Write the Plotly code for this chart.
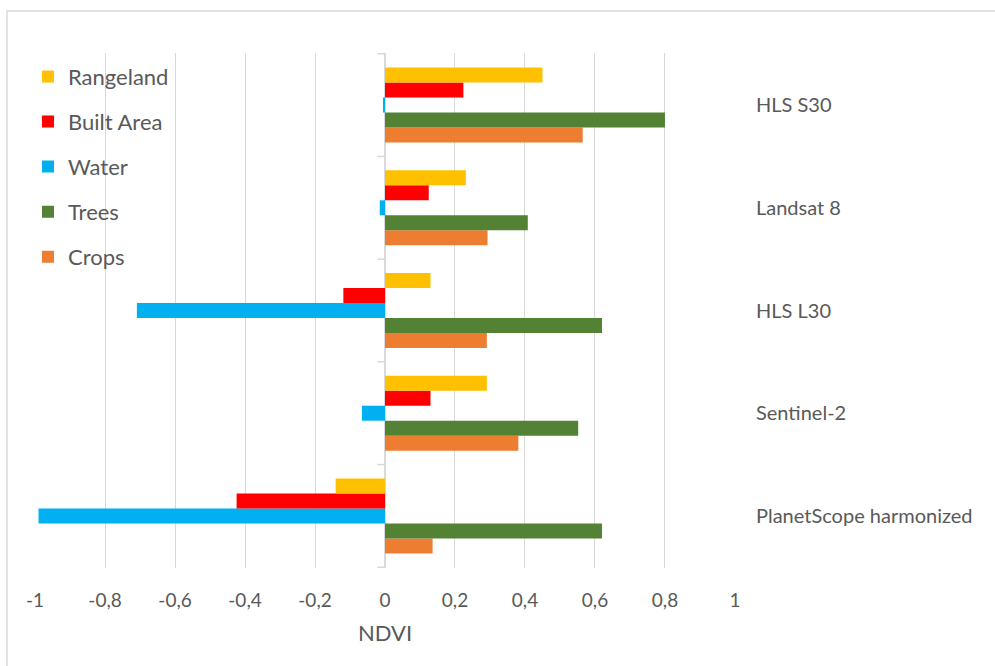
import plotly.graph_objects as go

categories = ["PlanetScope harmonized", "Sentinel-2", "HLS L30", "Landsat 8", "HLS S30"]
crops = [0.136, 0.381, 0.291, 0.293, 0.565]
trees = [0.62, 0.552, 0.62, 0.408, 0.80]
water = [-0.99, -0.066, -0.709, -0.015, -0.005]
built_area = [-0.424, 0.13, -0.119, 0.125, 0.224]
rangeland = [-0.141, 0.291, 0.13, 0.231, 0.45]

series = [
    ("Crops", crops, "#ED7D31"),
    ("Trees", trees, "#548235"),
    ("Water", water, "#00B0F0"),
    ("Built Area", built_area, "#FF0000"),
    ("Rangeland", rangeland, "#FFC000"),
]
x_ticks = [-1, -0.8, -0.6, -0.4, -0.2, 0, 0.2, 0.4, 0.6, 0.8, 1]
x_tick_labels = ["-1", "-0,8", "-0,6", "-0,4", "-0,2", "0", "0,2", "0,4", "0,6", "0,8", "1"]

FONT = "Lato"
TXT = "#595959"
GRID = "#d9d9d9"

fig = go.Figure()
n = len(series)
for i, (name, vals, col) in enumerate(series):
    fig.add_trace(go.Bar(
        y=categories, x=vals, name=name, orientation="h",
        marker=dict(color=col, line=dict(width=0)),
        legendgroup=name, legendrank=n - i,
    ))

# category boundary tick marks on the zero axis
shapes = []
for k in range(len(categories) + 1):
    shapes.append(dict(type="line", xref="x", yref="y", x0=-0.022, x1=0,
                       y0=k - 0.5, y1=k - 0.5, line=dict(color=GRID, width=1.5)))
# outer chart frame (extends beyond the right and bottom edges)
shapes.append(dict(type="rect", xref="paper", yref="paper", x0=-0.04, x1=2,
                   y0=-0.5, y1=1.0816, line=dict(color=GRID, width=1.5), layer="below"))

fig.update_layout(
    width=995, height=666,
    margin=dict(l=35, r=260, t=53, b=98),
    paper_bgcolor="white", plot_bgcolor="white",
    barmode="group", bargap=0.27, bargroupgap=0,
    separators=", ",
    font=dict(family=FONT, color=TXT, size=19),
    showlegend=True,
    legend=dict(
        x=-0.01, y=0.995, xanchor="left", yanchor="top",
        traceorder="grouped", tracegroupgap=13.5,
        bgcolor="rgba(0,0,0,0)", font=dict(size=22, color=TXT),
    ),
    shapes=shapes,
    xaxis=dict(
        range=[-1.0001, 1.0001], tickvals=x_ticks, ticktext=x_tick_labels,
        showgrid=True, gridcolor=GRID, gridwidth=1.4,
        zeroline=True, zerolinecolor=GRID, zerolinewidth=1.5,
        showline=False, ticks="", ticklabelstandoff=19,
        tickfont=dict(size=19, color=TXT),
        title=dict(text="NDVI", font=dict(size=22, color=TXT), standoff=15),
    ),
    yaxis=dict(
        type="category", side="right", showgrid=False, zeroline=False, showline=False,
        ticks="", ticklabelstandoff=20, tickfont=dict(size=20, color=TXT),
    ),
)

fig.write_html(
    "out.html",
    config={"displayModeBar": False},
    post_script="document.body.style.margin='0';document.body.style.overflow='hidden';",
)
